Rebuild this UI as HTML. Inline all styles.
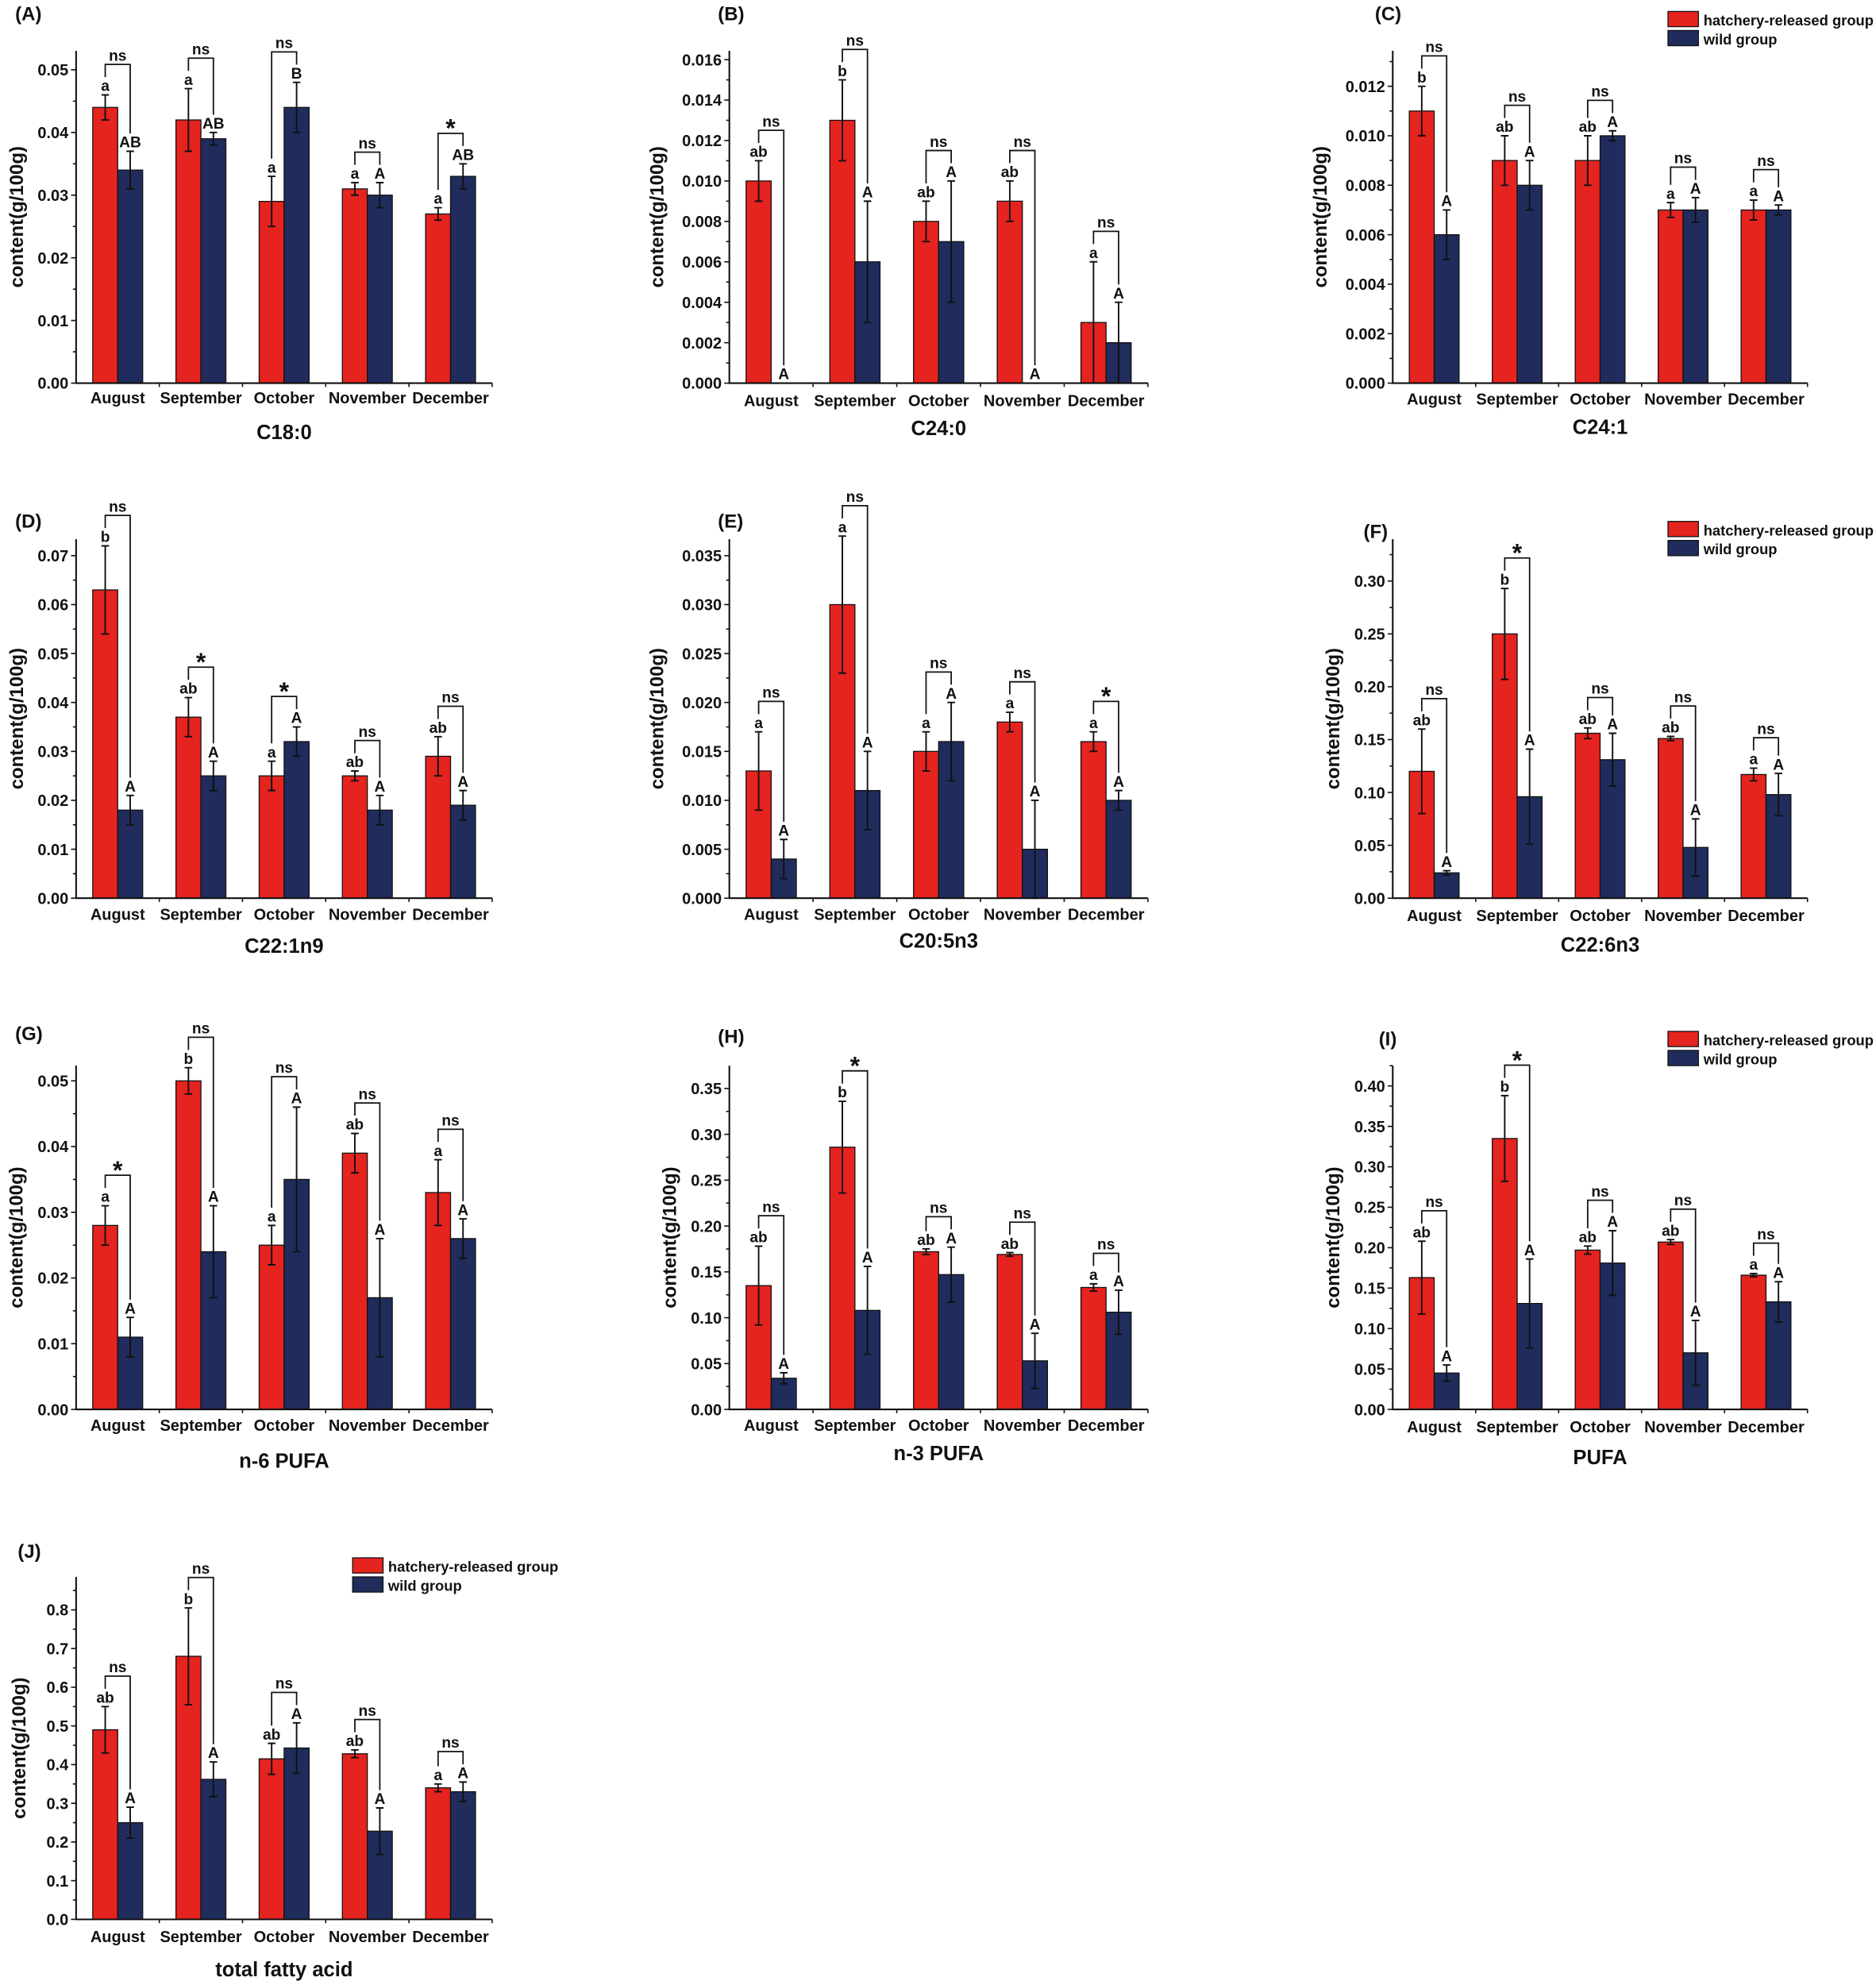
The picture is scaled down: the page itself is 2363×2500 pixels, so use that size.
<!DOCTYPE html>
<html><head><meta charset="utf-8">
<style>
html,body{margin:0;padding:0;background:#fff;}
svg{display:block;}
text{font-family:"Liberation Sans Narrow","Liberation Sans",sans-serif;font-weight:bold;fill:#111;}
.wide{font-family:"Liberation Sans",sans-serif;}
</style></head>
<body>
<svg id="fig" width="2363" height="2500" viewBox="0 0 1479 1564.7" xmlns="http://www.w3.org/2000/svg"></svg>
<script>
const months = ["August","September","October","November","December"];
const panelIds = ["A","B","C","D","E","F","G","H","I","J"];
const panelTitles = ["C18:0","C24:0","C24:1","C22:1n9","C20:5n3","C22:6n3","n-6 PUFA","n-3 PUFA","PUFA","total fatty acid"];
const redA=[0.044,0.042,0.029,0.031,0.027], redErrA=[0.002,0.005,0.004,0.001,0.001], blueA=[0.034,0.039,0.044,0.030,0.033], blueErrA=[0.003,0.001,0.004,0.002,0.002];
const redB=[0.010,0.013,0.008,0.009,0.003], redErrB=[0.001,0.002,0.001,0.001,0.003], blueB=[0,0.006,0.007,0,0.002], blueErrB=[0,0.003,0.003,0,0.002];
const redC=[0.011,0.009,0.009,0.007,0.007], redErrC=[0.001,0.001,0.001,0.0003,0.0004], blueC=[0.006,0.008,0.010,0.007,0.007], blueErrC=[0.001,0.001,0.0002,0.0005,0.0002];
const redD=[0.063,0.037,0.025,0.025,0.029], redErrD=[0.009,0.004,0.003,0.001,0.004], blueD=[0.018,0.025,0.032,0.018,0.019], blueErrD=[0.003,0.003,0.003,0.003,0.003];
const redE=[0.013,0.030,0.015,0.018,0.016], redErrE=[0.004,0.007,0.002,0.001,0.001], blueE=[0.004,0.011,0.016,0.005,0.010], blueErrE=[0.002,0.004,0.004,0.005,0.001];
const redF=[0.12,0.25,0.156,0.151,0.117], redErrF=[0.04,0.043,0.005,0.002,0.006], blueF=[0.024,0.096,0.131,0.048,0.098], blueErrF=[0.002,0.045,0.025,0.027,0.02];
const redG=[0.028,0.050,0.025,0.039,0.033], redErrG=[0.003,0.002,0.003,0.003,0.005], blueG=[0.011,0.024,0.035,0.017,0.026], blueErrG=[0.003,0.007,0.011,0.009,0.003];
const redH=[0.135,0.286,0.172,0.169,0.133], redErrH=[0.043,0.05,0.003,0.002,0.004], blueH=[0.034,0.108,0.147,0.053,0.106], blueErrH=[0.006,0.048,0.03,0.03,0.024];
const redI=[0.163,0.335,0.197,0.207,0.166], redErrI=[0.045,0.053,0.005,0.003,0.002], blueI=[0.045,0.131,0.181,0.07,0.133], blueErrI=[0.01,0.055,0.04,0.04,0.025];
const redJ=[0.49,0.68,0.415,0.428,0.34], redErrJ=[0.06,0.125,0.04,0.01,0.01], blueJ=[0.25,0.362,0.443,0.228,0.33], blueErrJ=[0.04,0.045,0.065,0.06,0.025];
const redLetters=[["a","a","a","a","a"],["ab","b","ab","ab","a"],["b","ab","ab","a","a"],["b","ab","a","ab","ab"],["a","a","a","a","a"],["ab","b","ab","ab","a"],["a","b","a","ab","a"],["ab","b","ab","ab","a"],["ab","b","ab","ab","a"],["ab","b","ab","ab","a"]];
const blueLetters=[["AB","AB","B","A","AB"],["A","A","A","A","A"],["A","A","A","A","A"],["A","A","A","A","A"],["A","A","A","A","A"],["A","A","A","A","A"],["A","A","A","A","A"],["A","A","A","A","A"],["A","A","A","A","A"],["A","A","A","A","A"]];
const sigMarks=[["ns","ns","ns","ns","*"],["ns","ns","ns","ns","ns"],["ns","ns","ns","ns","ns"],["ns","*","*","ns","ns"],["ns","ns","ns","ns","*"],["ns","*","ns","ns","ns"],["*","ns","ns","ns","ns"],["ns","*","ns","ns","ns"],["ns","*","ns","ns","ns"],["ns","ns","ns","ns","ns"]];
const yTickMax=[0.05,0.016,0.012,0.07,0.035,0.30,0.05,0.35,0.40,0.8];
const yTickStep=[0.01,0.002,0.002,0.01,0.005,0.05,0.01,0.05,0.05,0.1];
const yDecimals=[2,3,3,2,3,2,2,2,2,1];
const reds=[redA,redB,redC,redD,redE,redF,redG,redH,redI,redJ];
const redErrs=[redErrA,redErrB,redErrC,redErrD,redErrE,redErrF,redErrG,redErrH,redErrI,redErrJ];
const blues=[blueA,blueB,blueC,blueD,blueE,blueF,blueG,blueH,blueI,blueJ];
const blueErrs=[blueErrA,blueErrB,blueErrC,blueErrD,blueErrE,blueErrF,blueErrG,blueErrH,blueErrI,blueErrJ];

const layout=[
 {l:60,r:388,base:302,topTick:55,top:40,lab:[12,16],xl:314,tt:341,legend:false},
 {l:575,r:905,base:302,topTick:47,top:40,lab:[566,16],xl:316,tt:338,legend:false},
 {l:1098,r:1425,base:302,topTick:68,top:40,lab:[1084,16],xl:315,tt:337,legend:[1315,9]},
 {l:60,r:388,base:708,topTick:438,top:425,lab:[12,416],xl:721,tt:746,legend:false},
 {l:575,r:905,base:708,topTick:438,top:425,lab:[566,416],xl:721,tt:742,legend:false},
 {l:1098,r:1425,base:708,topTick:458,top:425,lab:[1075,424],xl:722,tt:745,legend:[1315,411]},
 {l:60,r:388,base:1111,topTick:852,top:840,lab:[12,820],xl:1124,tt:1152,legend:false},
 {l:575,r:905,base:1111,topTick:858,top:840,lab:[566,822],xl:1124,tt:1146,legend:false},
 {l:1098,r:1425,base:1111,topTick:856,top:840,lab:[1087,824],xl:1125,tt:1149,legend:[1315,813]},
 {l:60,r:388,base:1513,topTick:1269,top:1243,lab:[14,1228],xl:1527,tt:1553,legend:[278,1228]}
];
const NS="http://www.w3.org/2000/svg";
const svg=document.getElementById('fig');
function mk(tag,attrs,parent,txt){const e=document.createElementNS(NS,tag);for(const k in attrs)e.setAttribute(k,attrs[k]);if(txt!==undefined)e.textContent=txt;parent.appendChild(e);return e;}
const RED="#e5231f", BLUE="#1f2c5c";
for(let p=0;p<10;p++){
  const L=layout[p];
  const g=mk('g',{},svg);
  
  
  const maxV=yTickMax[p];
  const y=v=>L.base-(v/maxV)*(L.base-L.topTick);
  const gw=(L.r-L.l)/5;
  const xc=i=>L.l+gw*(i+0.5);
  const bw=gw*0.3;
  const pl=mk('text',{x:L.lab[0],y:L.lab[1],'font-size':15,class:'wide'},g,'('+panelIds[p]+')');
  
  
  for(let i=0;i<5;i++){
    const rv=reds[p][i], re=redErrs[p][i], bv=blues[p][i], be=blueErrs[p][i];
    const rx=xc(i)-bw, bx=xc(i);
    const rb=mk('rect',{x:rx,y:y(rv),width:bw,height:L.base-y(rv),fill:RED,stroke:'#111','stroke-width':0.8},g);
    
    
    const bb=mk('rect',{x:bx,y:y(bv),width:bw,height:L.base-y(bv),fill:BLUE,stroke:'#111','stroke-width':0.8},g);
    
    
    const tops=[];
    [[rx+bw/2,rv,re,redLetters[p][i]],[bx+bw/2,bv,be,blueLetters[p][i]]].forEach(([cx,v,e,lt],k)=>{
      if(e>0){
        const eg=mk('path',{d:`M${cx},${y(v+e)}V${y(Math.max(0,v-e))}M${cx-3},${y(v+e)}h6M${cx-3},${y(Math.max(0,v-e))}h6`,stroke:'#111','stroke-width':1.2,fill:'none'},g);
        
        
      }
      const ly=y(v+e)-3;
      const t=mk('text',{x:cx,y:ly,'font-size':12,'text-anchor':'middle'},g,lt);
      
      
      tops.push(ly-11);
    });
    const bt=Math.min(tops[0],tops[1])-10;
    const lx=rx+bw/2, rxx=bx+bw/2;
    const br=mk('path',{d:`M${lx},${tops[0]}V${bt}H${rxx}V${tops[1]}`,stroke:'#111','stroke-width':1.1,fill:'none'},g);
    
    
    const s=sigMarks[p][i];
    const st=mk('text',{x:(lx+rxx)/2,y:s==='*'?bt+3:bt-3,'font-size':s==='*'?20:12,'text-anchor':'middle'},g,s);
    
    
    const xl=mk('text',{x:xc(i),y:L.xl+4,'font-size':12.5,'text-anchor':'middle'},g,months[i]);
    
    
  }
  const ax=mk('path',{d:`M${L.l},${L.top}V${L.base}H${L.r}`,stroke:'#111','stroke-width':1.3,fill:'none'},g);
  
  
  for(let i=1;i<5;i++) mk('line',{x1:L.l+gw*i,x2:L.l+gw*i,y1:L.base,y2:L.base+3,stroke:'#111','stroke-width':1},g);
  mk('line',{x1:L.r,x2:L.r,y1:L.base,y2:L.base+3,stroke:'#111','stroke-width':1},g);
  const st=yTickStep[p];
  const n=Math.round(maxV/st);
  for(let k=0;k<=n;k++){
    const v=k*st;
    mk('line',{x1:L.l-4,x2:L.l,y1:y(v),y2:y(v),stroke:'#111','stroke-width':1},g);
    const hv=v+st/2;
    if(y(hv)>L.top) mk('line',{x1:L.l-2.5,x2:L.l,y1:y(hv),y2:y(hv),stroke:'#111','stroke-width':1},g);
    const tl=mk('text',{x:L.l-6,y:y(v)+4.5,'font-size':12.5,'text-anchor':'end'},g,v.toFixed(yDecimals[p]));
    
    
  }
  const yc=(L.top+L.base)/2;
  const yx=L.l-(yDecimals[p]===3?52:(yDecimals[p]===1?40:42));
  const yt=mk('text',{x:yx,y:yc,'font-size':15,'text-anchor':'middle',class:'wide',transform:`rotate(-90 ${yx} ${yc})`},g,'content(g/100g)');
  
  
  const tt=mk('text',{x:(L.l+L.r)/2,y:L.tt+5,'font-size':16,'text-anchor':'middle'},g,panelTitles[p]);
  
  
  if(L.legend){
    const [lx,ly]=L.legend;
    const lg=mk('g',{},g);
    
    
    mk('rect',{x:lx,y:ly,width:24,height:12,fill:RED,stroke:'#111','stroke-width':0.8},lg);
    mk('rect',{x:lx,y:ly+15,width:24,height:12,fill:BLUE,stroke:'#111','stroke-width':0.8},lg);
    const e1=mk('text',{x:lx+28,y:ly+11,'font-size':11.5},lg,'hatchery-released group');
    
    
    const e2=mk('text',{x:lx+28,y:ly+26,'font-size':11.5},lg,'wild group');
    
    
  }
}
</script>
</body></html>
